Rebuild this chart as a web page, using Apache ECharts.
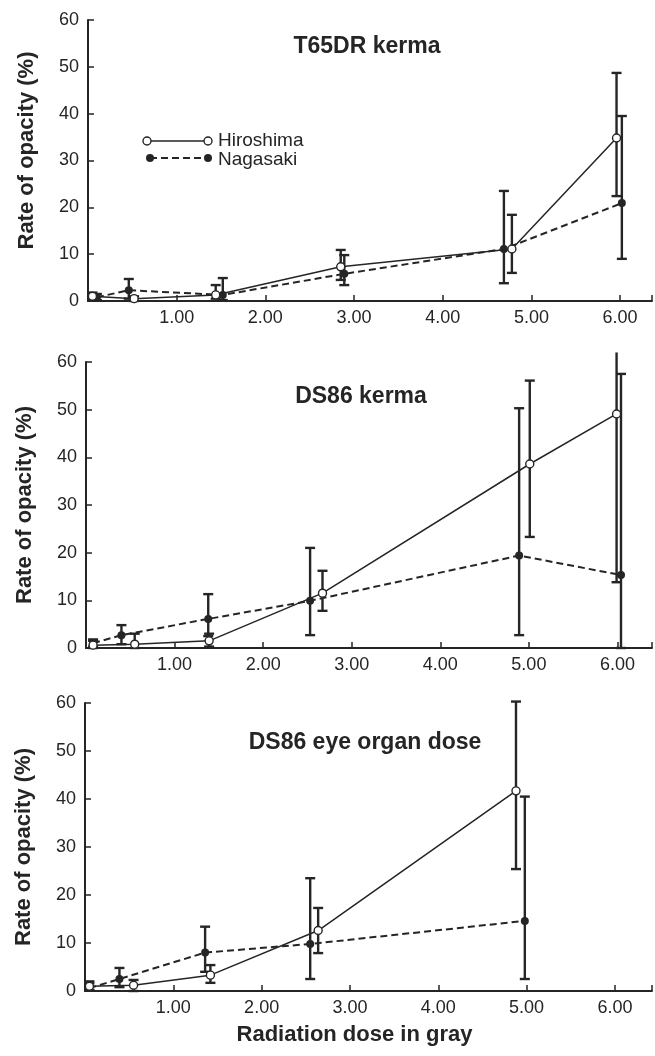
<!DOCTYPE html>
<html>
<head>
<meta charset="utf-8">
<script src="https://cdn.jsdelivr.net/npm/echarts@6/dist/echarts.min.js"></script>
<style>
  html, body { margin: 0; padding: 0; background: #fff; }
  #chart { width: 655px; height: 1056px; }
</style>
</head>
<body>
<div id="chart"></div>
<script>
// panel titles
const panelTitles = ['T65DR kerma', 'DS86 kerma', 'DS86 eye organ dose']
const yTicks = [0, 10, 20, 30, 40, 50, 60]
const xTicks = [1, 2, 3, 4, 5, 6]

// T65DR kerma
const t65HiroDose = [0.05, 0.52, 1.44, 2.85, 4.78, 5.96]
const t65HiroRate = [1.0, 0.5, 1.3, 7.3, 11.1, 34.8]
const t65HiroLow = [0.3, 0, 0.5, 4.5, 6.0, 22.4]
const t65HiroHigh = [1.8, 1.0, 3.4, 10.9, 18.4, 48.7]
const t65NagaDose = [0.1, 0.46, 1.52, 2.89, 4.69, 6.02]
const t65NagaRate = [0.8, 2.3, 1.3, 5.8, 11.1, 20.9]
const t65NagaLow = [0.2, 0.5, 0.2, 3.4, 3.8, 9.0]
const t65NagaHigh = [1.5, 4.7, 4.9, 9.8, 23.5, 39.5]

// DS86 kerma
const dsHiroDose = [0.08, 0.55, 1.39, 2.67, 5.01, 5.99]
const dsHiroRate = [0.6, 0.8, 1.5, 11.5, 38.6, 49.1]
const dsHiroLow = [0, 0, 0.3, 7.8, 23.3, 13.8]
const dsHiroHigh = [1.5, 3.0, 3.0, 16.2, 56.1, 62]
const dsNagaDose = [0.08, 0.40, 1.38, 2.53, 4.89, 6.04]
const dsNagaRate = [1.0, 2.7, 6.1, 9.9, 19.4, 15.3]
const dsNagaLow = [0.3, 0.8, 2.5, 2.7, 2.7, 0]
const dsNagaHigh = [1.8, 4.8, 11.3, 21.0, 50.3, 57.5]

// DS86 eye organ dose
const eyeHiroDose = [0.05, 0.55, 1.42, 2.64, 4.88]
const eyeHiroRate = [1.0, 1.2, 3.3, 12.6, 41.7]
const eyeHiroLow = [0.2, 0, 1.7, 7.9, 25.4]
const eyeHiroHigh = [2.0, 2.3, 5.4, 17.3, 60.3]
const eyeNagaDose = [0.05, 0.39, 1.36, 2.55, 4.98]
const eyeNagaRate = [0.6, 2.5, 8.0, 9.8, 14.6]
const eyeNagaLow = [0.1, 0.8, 4.0, 2.5, 2.5]
const eyeNagaHigh = [1.6, 4.8, 13.4, 23.5, 40.5]

const ink = '#252525'
const font = 'Liberation Sans, Arial, sans-serif'

const panels = [
  { hiro: [t65HiroDose, t65HiroRate, t65HiroLow, t65HiroHigh], naga: [t65NagaDose, t65NagaRate, t65NagaLow, t65NagaHigh] },
  { hiro: [dsHiroDose, dsHiroRate, dsHiroLow, dsHiroHigh], naga: [dsNagaDose, dsNagaRate, dsNagaLow, dsNagaHigh] },
  { hiro: [eyeHiroDose, eyeHiroRate, eyeHiroLow, eyeHiroHigh], naga: [eyeNagaDose, eyeNagaRate, eyeNagaLow, eyeNagaHigh] },
]

// layout of the three stacked panels
const grids = [
  { left: 88, top: 20, height: 281, right: 0 },
  { left: 86, top: 362, height: 286, right: 0 },
  { left: 85, top: 703, height: 288, right: 0 },
]
const xMax = [6.36, 6.39, 6.42]
const titlePos = [{ left: 362, top: 31 }, { left: 356, top: 381 }, { left: 360, top: 727 }]

function points (dose, rate) {
  return dose.map((d, i) => [d, rate[i]])
}

function bars (dose, low, high) {
  return dose.map((d, i) => [d, low[i], high[i]])
}

function renderErrorBar (params, api) {
  const x = api.value(0)
  const lo = api.value(1)
  const hi = api.value(2)
  const top = api.coord([x, hi])
  const bot = api.coord([x, lo])
  const w = 5
  const style = { stroke: ink, lineWidth: 2.4 }
  const children = [
    { type: 'line', shape: { x1: top[0], y1: top[1], x2: bot[0], y2: bot[1] }, style },
    { type: 'line', shape: { x1: bot[0] - w, y1: bot[1], x2: bot[0] + w, y2: bot[1] }, style },
  ]
  // the bar that runs off the top of the frame has no cap
  if (hi <= yTicks[yTicks.length - 1] + 1) {
    children.push({ type: 'line', shape: { x1: top[0] - w, y1: top[1], x2: top[0] + w, y2: top[1] }, style })
  }
  return { type: 'group', children }
}

const xAxis = grids.map((g, i) => ({
  type: 'value',
  gridIndex: i,
  min: 0,
  max: xMax[i],
  interval: 1,
  splitLine: { show: false },
  axisLine: { lineStyle: { color: ink, width: 2 } },
  axisTick: { inside: true, length: 6, lineStyle: { color: ink, width: 1.5 } },
  axisLabel: {
    color: ink,
    fontFamily: font,
    fontSize: 18,
    margin: 8,
    formatter: v => (xTicks.includes(v) ? v.toFixed(2) : ''),
  },
  name: i === 2 ? 'Radiation dose in gray' : '',
  nameLocation: 'middle',
  nameGap: 33,
  nameTextStyle: { color: ink, fontFamily: font, fontSize: 22, fontWeight: 'bold', padding: [0, 28, 0, 0] },
}))

const yAxis = grids.map((g, i) => ({
  type: 'value',
  gridIndex: i,
  min: yTicks[0],
  max: yTicks[yTicks.length - 1],
  interval: 10,
  splitLine: { show: false },
  axisLine: { show: true, lineStyle: { color: ink, width: 2 } },
  axisTick: { show: true, inside: true, length: 6, lineStyle: { color: ink, width: 1.5 } },
  axisLabel: { color: ink, fontFamily: font, fontSize: 18, margin: 9 },
  name: 'Rate of opacity (%)',
  nameLocation: 'middle',
  nameRotate: 90,
  nameGap: 50,
  nameTextStyle: { color: ink, fontFamily: font, fontSize: 22, fontWeight: 'bold', padding: i === 0 ? [0, 0, 0, 20] : 0 },
}))

const series = []
panels.forEach((p, i) => {
  series.push({
    type: 'custom',
    name: 'Hiroshima CI',
    xAxisIndex: i,
    yAxisIndex: i,
    clip: false,
    z: 1,
    renderItem: renderErrorBar,
    encode: { x: 0, y: [1, 2] },
    data: bars(p.hiro[0], p.hiro[2], p.hiro[3]),
  })
  series.push({
    type: 'custom',
    name: 'Nagasaki CI',
    xAxisIndex: i,
    yAxisIndex: i,
    clip: false,
    z: 1,
    renderItem: renderErrorBar,
    encode: { x: 0, y: [1, 2] },
    data: bars(p.naga[0], p.naga[2], p.naga[3]),
  })
  series.push({
    type: 'line',
    name: 'Nagasaki',
    xAxisIndex: i,
    yAxisIndex: i,
    z: 3,
    symbol: 'circle',
    symbolSize: 8,
    itemStyle: { color: ink },
    lineStyle: { color: ink, width: 2, type: [7, 4] },
    data: points(p.naga[0], p.naga[1]),
  })
  series.push({
    type: 'line',
    name: 'Hiroshima',
    xAxisIndex: i,
    yAxisIndex: i,
    z: 4,
    symbol: 'circle',
    symbolSize: 8,
    itemStyle: { color: '#fff', borderColor: ink, borderWidth: 1.4 },
    lineStyle: { color: ink, width: 1.5 },
    data: points(p.hiro[0], p.hiro[1]),
  })
})

const chart = echarts.init(document.getElementById('chart'), null, { renderer: 'canvas' })
chart.setOption({
  backgroundColor: '#fff',
  animation: false,
  title: panelTitles.map((t, i) => ({
    text: t,
    left: titlePos[i].left,
    top: titlePos[i].top - 1,
    textAlign: 'center',
    textStyle: { color: ink, fontFamily: font, fontSize: 23, fontWeight: 'bold' },
  })),
  grid: grids,
  xAxis,
  yAxis,
  series,
  // hand drawn key, as in the original figure
  graphic: [
    { type: 'line', shape: { x1: 147, y1: 141, x2: 208, y2: 141 }, style: { stroke: ink, lineWidth: 1.5 } },
    { type: 'circle', shape: { cx: 147, cy: 141, r: 4 }, style: { fill: '#fff', stroke: ink, lineWidth: 1.4 } },
    { type: 'circle', shape: { cx: 208, cy: 141, r: 4 }, style: { fill: '#fff', stroke: ink, lineWidth: 1.4 } },
    { type: 'text', x: 218, y: 141, style: { text: 'Hiroshima', fill: ink, font: '19px ' + font, textVerticalAlign: 'middle' } },
    { type: 'line', shape: { x1: 150, y1: 158, x2: 208, y2: 158 }, style: { stroke: ink, lineWidth: 2, lineDash: [7, 4] } },
    { type: 'circle', shape: { cx: 150, cy: 158, r: 4 }, style: { fill: ink } },
    { type: 'circle', shape: { cx: 208, cy: 158, r: 4 }, style: { fill: ink } },
    { type: 'text', x: 218, y: 160, style: { text: 'Nagasaki', fill: ink, font: '19px ' + font, textVerticalAlign: 'middle' } },
  ],
})
</script>
</body>
</html>
